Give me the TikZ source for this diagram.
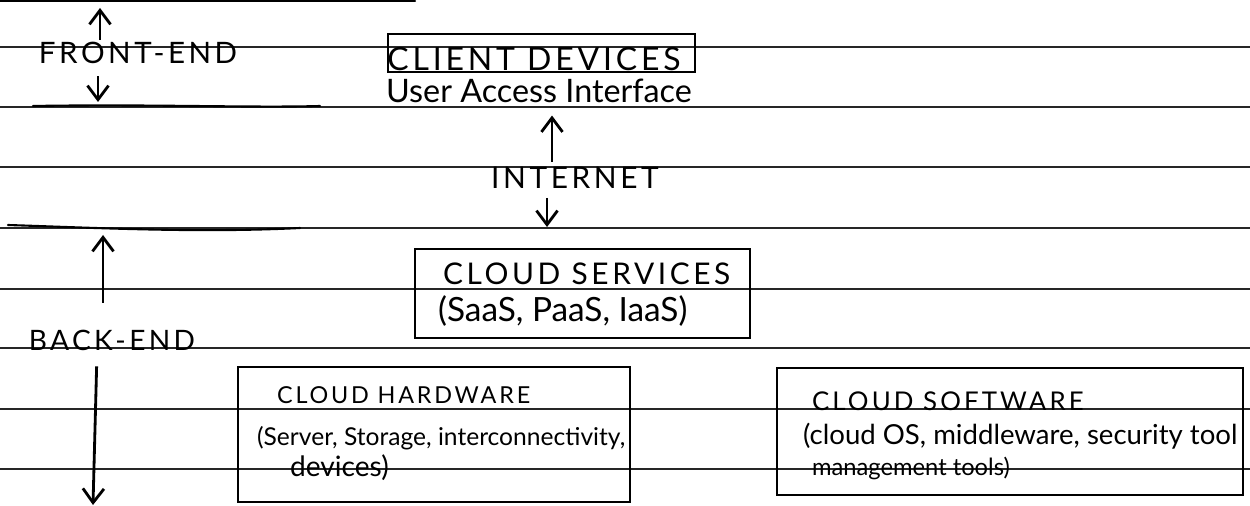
\documentclass[tikz,border=0pt]{standalone}
\usepackage{fontspec}
\setmainfont{Lato}
\newfontfamily\capsfont[LetterSpace=12]{Lato}
\usepackage{tikz}
\usetikzlibrary{
  arrows.meta,
  positioning,
  fit,
}

\begin{document}
\begin{tikzpicture}[
  x=0.02cm, y=-0.02cm,
  every node/.style={align=left, inner sep=1pt},
  caps/.style={font=\capsfont\fontsize{#1}{#1}\selectfont},
  caps/.default=14,
  hand/.style={font=\fontsize{#1}{#1}\selectfont},
  hand/.default=15,
  arrow/.style={-{Straight Barb[length=8pt,width=12pt]}, line width=1.6pt},
  box/.style={draw, line width=1.5pt, inner sep=0pt},
  ruling/.style={black!85, line width=0.6pt},
  stroke/.style={line width=1.2pt, line cap=round},
]
\useasboundingbox (0,0) rectangle (1250,506);

%% ruled paper
\foreach \y in {47,107,167,228,289,348,409,469}{
  \draw[ruling] (0,\y) -- (1250,\y);
}
\draw[stroke] (0,1) -- (415,1);
\draw[stroke] (33,106) .. controls (150,104) and (250,108) .. (320,106);
\draw[stroke] (8,225) .. controls (100,228) and (200,233) .. (300,228);

%% front end
\node[caps=16.8] (fe) at (138,53) {FRONT-END};
\coordinate (feUp) at (100,8);
\coordinate (feDown) at (98,102);
\draw[arrow] (fe.north -| feUp) -- (feUp);
\draw[arrow, shorten <=6pt] (fe.south -| feDown) -- (feDown);

%% client side
\node[caps=18.2] (client) at (534,59) {CLIENT DEVICES};
\node[box, fit={(388,34) (695,72)}] (clientbox) {};
\node[hand=18.4] (uai) at (539,91) {User Access Interface};

%% internet
\node[caps=17] (net) at (575,178) {INTERNET};
\coordinate (netDown) at (547,227);
\draw[arrow, shorten <=2pt, shorten >=6pt] (net.north -| 552,0) -- (uai.south -| 552,0);
\draw[arrow, shorten <=4pt] (net.south -| netDown) -- (netDown);

%% back end
\node[caps=16] (be) at (112,340) {BACK-END};
\coordinate (beUp) at (103,235);
\coordinate (beDown) at (93,505);
\draw[arrow, shorten <=14pt] (be.north -| beUp) -- (beUp);
\draw[arrow, shorten <=8pt] (be.south -| 97,0) -- (beDown);

%% cloud services
\node[box, fit={(415,249) (750,338)}] (services) {};
\node[caps=17, anchor=west] (servT) at (441,274) {CLOUD SERVICES};
\node[hand=19, anchor=west] (servD) at (436,311) {(SaaS, PaaS, IaaS)};

%% cloud hardware
\node[box, fit={(238,367) (630,502)}] (hardware) {};
\node[caps=13.3, anchor=west] (hwT) at (275,395) {CLOUD HARDWARE};
\node[hand=14, anchor=west] (hwD) at (255,438) {(Server, Storage, interconnectivity,};
\node[hand=16, anchor=west] (hwE) at (288,468) {devices)};

%% cloud software
\node[box, fit={(777,368) (1243,495)}] (software) {};
\node[caps=14.7, anchor=west] (swT) at (810,401) {CLOUD SOFTWARE};
\node[hand=15.7, anchor=west] (swD) at (801,436) {(cloud OS, middleware, security tool};
\node[hand=13.5, anchor=west] (swE) at (810,468) {management tools)};

\end{tikzpicture}
\end{document}
